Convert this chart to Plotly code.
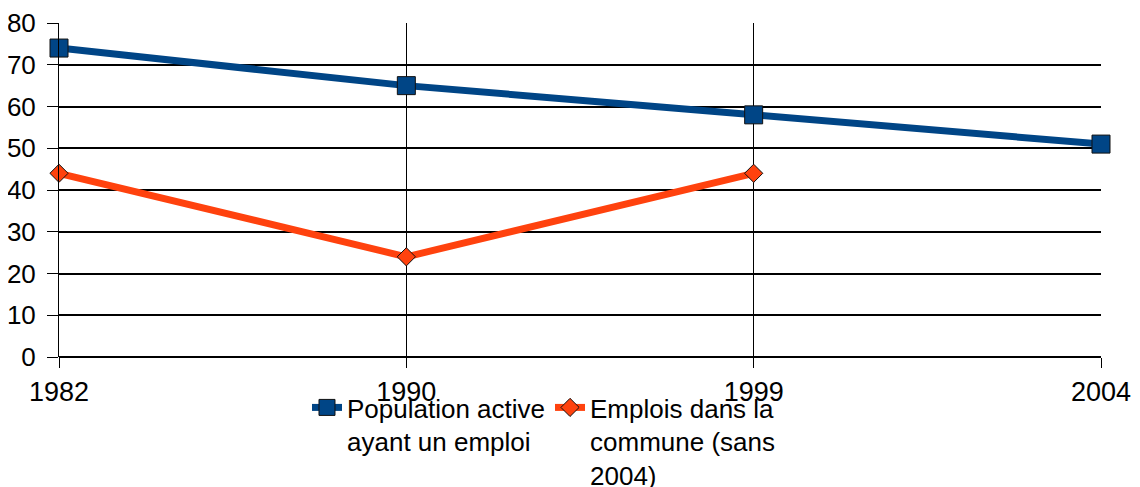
import plotly.graph_objects as go

years = ["1982", "1990", "1999", "2004"]
population_active = [74, 65, 58, 51]
emplois_commune = [44, 24, 44, None]
y_ticks = [0, 10, 20, 30, 40, 50, 60, 70, 80]

xpos = list(range(len(years)))

fig = go.Figure()
fig.add_trace(go.Scatter(
    x=xpos, y=population_active, mode="lines+markers",
    name="Population active<br>ayant un emploi",
    line=dict(color="#004586", width=7),
    marker=dict(symbol="square", size=18, color="#004586",
                line=dict(color="#111111", width=1)),
    cliponaxis=False,
))
fig.add_trace(go.Scatter(
    x=xpos, y=emplois_commune, mode="lines+markers",
    name="Emplois dans la<br>commune (sans<br>2004)",
    line=dict(color="#ff420e", width=7),
    marker=dict(symbol="diamond", size=14, color="#ff420e",
                line=dict(color="#111111", width=1)),
    cliponaxis=False,
))

fig.update_layout(
    width=1132, height=479,
    margin=dict(l=51, r=39, t=15, b=130, autoexpand=False),
    paper_bgcolor="white", plot_bgcolor="white",
    font=dict(family="Liberation Sans, Arial, sans-serif", size=26, color="black"),
    showlegend=True,
    legend=dict(orientation="h", x=0.238, xanchor="left",
                yref="container", y=0.215, yanchor="top",
                valign="top", bgcolor="rgba(0,0,0,0)",
                font=dict(size=26), tracegroupgap=0, itemwidth=30),
    xaxis=dict(
        range=[0, 3], tickvals=xpos, ticktext=years,
        showgrid=True, gridcolor="black", gridwidth=1,
        ticks="outside", ticklen=10, tickcolor="black", tickwidth=1,
        showline=False, zeroline=False, automargin=False,
        ticklabelstandoff=1, tickfont=dict(size=27),
    ),
    yaxis=dict(
        range=[0, 80], tickvals=y_ticks,
        showgrid=True, gridcolor="black", gridwidth=2,
        zeroline=True, zerolinecolor="black", zerolinewidth=2,
        ticks="outside", ticklen=11, tickcolor="black", tickwidth=1,
        showline=True, linecolor="black", linewidth=1,
        ticklabelstandoff=6, automargin=False,
    ),
)

fig.write_html("out.html")
